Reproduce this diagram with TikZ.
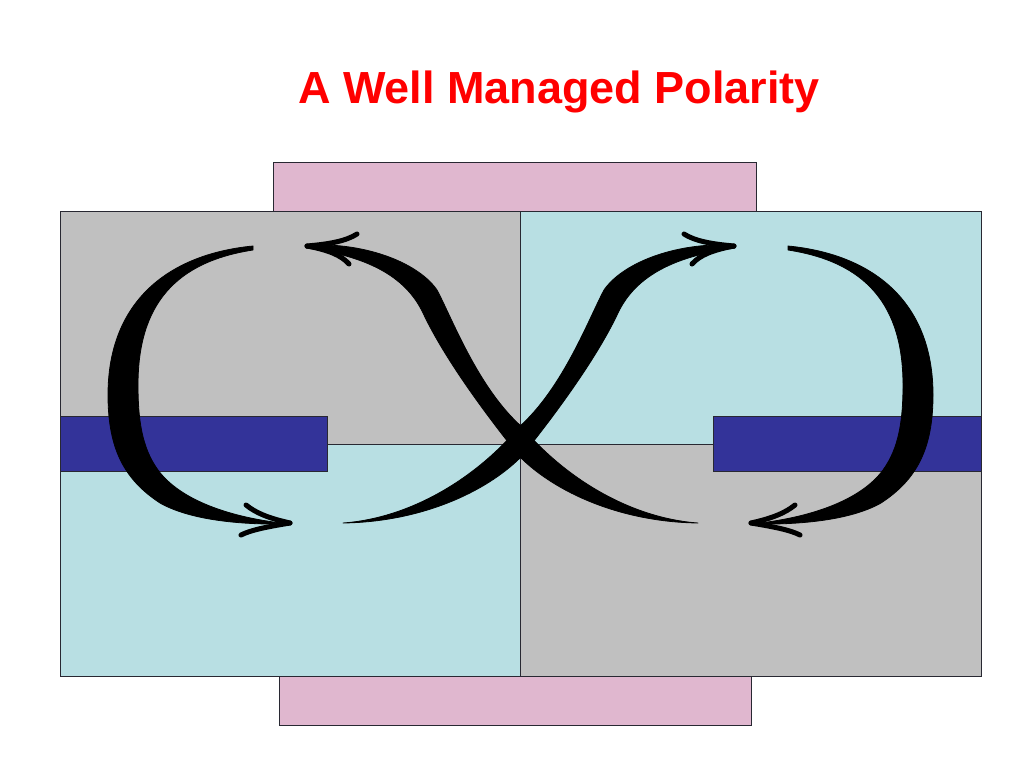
\documentclass[tikz,border=0pt]{standalone}
\usepackage{fontspec}
\setmainfont{Liberation Sans}
\definecolor{qgray}{RGB}{192,192,192}
\definecolor{qblue}{RGB}{184,223,227}
\definecolor{qpink}{RGB}{224,183,207}
\definecolor{qnavy}{RGB}{51,51,153}
\definecolor{qedge}{RGB}{40,40,50}
\definecolor{qred}{RGB}{255,0,0}
\newcommand\polstrokes{%
  % left bracket-like stroke
  \fill[swoosh] (253,246) .. controls (170,254) and (108,300) .. (108,395)
     .. controls (108,450) and (125,480) .. (160,503)
     .. controls (190,520) and (240,525) .. (290,524)
     .. controls (230,518) and (180,500) .. (158,470)
     .. controls (142,448) and (138,420) .. (138,385)
     .. controls (138,305) and (175,262) .. (253,250) -- cycle;
  \draw[barb] (290,523) .. controls (268,518) and (256,513) .. (246,505);
  \draw[barb] (290,523) .. controls (266,527) and (251,530) .. (241,535);
  % crossing stroke
  \fill[swoosh] (306,245) .. controls (370,242) and (420,265) .. (437,290)
     .. controls (452,318) and (478,388) .. (522,427)
     .. controls (565,478) and (630,518) .. (698,523)
     .. controls (620,522) and (555,492) .. (520,457)
     .. controls (490,420) and (445,360) .. (423,313)
     .. controls (405,275) and (365,256) .. (306,248) -- cycle;
  \draw[barb] (307,246) .. controls (330,244) and (346,241) .. (357,234);
  \draw[barb] (307,246) .. controls (328,250) and (341,255) .. (349,264);
}
\begin{document}
\begin{tikzpicture}[x=1pt,y=-1pt,
  box/.style={draw=qedge,line width=1pt},
  swoosh/.style={fill=black,draw=black,line width=0.8pt,line join=round},
  barb/.style={draw=black,line width=5pt,line cap=round}]
\useasboundingbox[fill=white] (0,0) rectangle (1024,768);
% title
\node[anchor=base,inner sep=0pt,text=qred,font=\bfseries\fontsize{45}{50}\selectfont] (title) at (559,103) {A Well Managed Polarity};
% pink bands
\filldraw[box,fill=qpink] (273,162) rectangle (756,211);
\filldraw[box,fill=qpink] (279,676) rectangle (751,725);
% quadrants
\filldraw[box,fill=qgray] (60,211) rectangle (520,444);
\filldraw[box,fill=qblue] (520,211) rectangle (981,444);
\filldraw[box,fill=qblue] (60,444) rectangle (520,676);
\filldraw[box,fill=qgray] (520,444) rectangle (981,676);
% blue bars
\filldraw[box,fill=qnavy] (60,416) rectangle (327,471);
\filldraw[box,fill=qnavy] (713,416) rectangle (981,471);
% strokes
\polstrokes
\begin{scope}[shift={(1041,0)},xscale=-1]
\polstrokes
\end{scope}
\end{tikzpicture}
\end{document}
